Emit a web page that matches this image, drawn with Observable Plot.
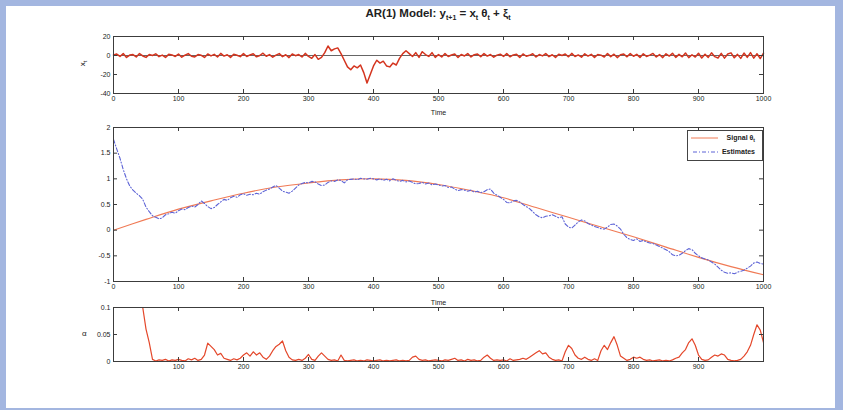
<!DOCTYPE html>
<html>
<head>
<meta charset="utf-8">
<script src="https://cdn.jsdelivr.net/npm/d3@7"></script>
<script src="https://cdn.jsdelivr.net/npm/@observablehq/plot@0.6"></script>
<style>
  body { margin: 0; background: #fff; }
  #wrap { position: relative; width: 843px; height: 410px; background: #a3b6e0; overflow: hidden;
          font-family: "Liberation Sans", Arial, sans-serif; color: #222; }
  #inner { position: absolute; left: 6px; top: 6px; width: 829px; height: 402px; background: #fff; }
  #title { position: absolute; left: 113px; width: 650px; top: 7px; text-align: center;
           font-family: "Liberation Sans Narrow", "Liberation Sans", Arial, sans-serif;
           font-size: 11.5px; font-weight: bold; color: #222; white-space: nowrap; }
  #title sub { font-size: 7px; }
  .panel { position: absolute; left: 0; }
  .ylab { position: absolute; font-size: 8px; color: #222; white-space: nowrap; }
  .ylab sub { font-size: 6px; }
  #legend { position: absolute; left: 687px; top: 130px; width: 74px; height: 29px; background: #fff;
            border: 1px solid #444; font-size: 7px; font-weight: bold; color: #222; }
  #legend .row { position: absolute; left: 0; width: 74px; height: 10px; }
  #legend svg { position: absolute; left: 3px; top: 0; }
  #legend span { position: absolute; right: 7px; top: 0; line-height: 10px; }
  #legend sub { font-size: 5px; }
</style>
</head>
<body>
<div id="wrap">
  <div id="inner"></div>
  <div id="title">AR(1) Model: y<sub>t+1</sub> = x<sub>t</sub> &theta;<sub>t</sub> + &xi;<sub>t</sub></div>
  <div id="p1" class="panel" style="top:26px"></div>
  <div id="p2" class="panel" style="top:117px"></div>
  <div id="p3" class="panel" style="top:297px"></div>
  <div class="ylab" style="left:80px; top:58px; transform: rotate(-90deg);">x<sub>t</sub></div>
  <div class="ylab" style="left:82px; top:329px;">&alpha;</div>
  <div id="legend">
    <div class="row" style="top:2px">
      <svg width="30" height="10"><line x1="0" y1="5" x2="27" y2="5" stroke="#f07a55" stroke-width="1"/></svg>
      <span>Signal &theta;<sub>t</sub></span>
    </div>
    <div class="row" style="top:16px">
      <svg width="30" height="10"><line x1="2" y1="5" x2="27" y2="5" stroke="#5d63d6" stroke-width="1" stroke-dasharray="4,2,1,2"/></svg>
      <span>Estimates</span>
    </div>
  </div>
</div>
<script>
// ---------- data ----------
const step = 5; // sampling step (time units) of the series below
// x_t regressor (panel 1), t = 0..1000 every 5
const xtValues = [
  0.5,1.5,-1,2,-2,0.5,1,-1.5,2,-0.5,
  -2,1,0,1.8,-1.2,0.4,-2,1.2,0.6,-1,
  1.5,-1.8,0.3,2,-0.8,-1.5,1,0.2,-2,1.6,
  -0.4,1.2,-1.6,2.2,-0.6,0.8,-2,1.4,0.2,-1.2,
  2,-1,0.6,1.8,-1.4,0,2.4,-0.8,1,-1.8,
  0.4,2,-1.2,0.8,-2.2,1.6,-0.2,1,-1.6,2.2,
  -1,-3,1,-4,-2,3,10,5,7,8,
  2,-5,-12,-15,-11,-13,-10,-18,-29,-20,
  -11,-5,-8,-6,-11,-12,-8,-10,-3,2,
  5,2,-1,3,-2,4,1,-1,3,-2,
  1,-1.5,2,-1,0.5,1.5,-2,1,-0.5,2,
  -1.5,0.8,1.6,-1.2,2,-0.6,1,-1.8,0.4,1.4,
  -1,2,-1.4,0.6,1.2,-2,1.6,-0.8,0.2,1.8,
  -1.6,1,-0.4,2,-1.2,0.8,-2,1.4,0,1.6,
  -1.4,2.2,-1,0.6,-1.8,1.8,-0.6,1.2,-2,1,
  0.4,-1.6,2,-1.2,1.4,-2.2,0.8,1.6,-1.4,2,
  -0.8,1.2,-2,1.8,-1,0.4,2.2,-1.6,1,-2.2,
  1.8,-0.6,2.4,-2,1.2,-1.4,2.6,-2.2,0.8,-1.6,
  2.4,-2.6,1.4,-2,2.8,-1.2,-2.6,2.2,-2.8,1.6,
  2.8,-2.4,1.2,-3,2.6,-2,3,-2.8,1.8,-3.2,
  2.4
];
// true signal theta_t (panel 2), sampled every 50
const thetaTimes = [0,50,100,150,200,250,300,350,400,450,500,550,600,650,700,750,800,850,900,950,1000];
const thetaTrue  = [0,0.21,0.41,0.57,0.72,0.84,0.92,0.98,1.0,0.97,0.89,0.77,0.63,0.44,0.25,0.06,-0.13,-0.33,-0.53,-0.71,-0.87];
// estimates (panel 2), t = 0..1000 every 5
const thetaEst = [
  1.77,1.58,1.40,1.18,1.00,0.86,0.78,0.72,0.67,0.60,0.45,0.36,0.28,0.25,0.22,0.24,0.30,0.32,0.35,0.33,
  0.38,0.41,0.40,0.44,0.47,0.45,0.50,0.57,0.52,0.46,0.42,0.44,0.50,0.55,0.60,0.58,0.63,0.66,0.64,0.69,
  0.71,0.68,0.70,0.69,0.72,0.70,0.75,0.78,0.80,0.84,0.87,0.82,0.76,0.74,0.72,0.76,0.82,0.88,0.91,0.93,
  0.92,0.95,0.94,0.90,0.87,0.88,0.93,0.96,0.95,0.98,0.97,0.92,0.98,0.99,1.00,0.98,1.01,1.00,0.99,1.01,
  1.00,0.98,1.00,0.97,0.99,0.96,1.00,0.97,0.95,0.97,0.94,0.96,0.93,0.90,0.91,0.93,0.90,0.92,0.88,0.90,
  0.88,0.86,0.87,0.83,0.84,0.80,0.77,0.79,0.78,0.76,0.78,0.74,0.76,0.73,0.75,0.79,0.80,0.72,0.68,0.64,
  0.60,0.54,0.53,0.57,0.58,0.55,0.50,0.46,0.42,0.36,0.30,0.26,0.24,0.27,0.28,0.30,0.27,0.24,0.26,0.12,
  0.06,0.04,0.10,0.16,0.20,0.18,0.13,0.10,0.07,0.05,0.03,0.02,0.06,0.11,0.12,0.08,0.02,-0.08,-0.15,-0.18,
  -0.20,-0.17,-0.22,-0.20,-0.23,-0.25,-0.26,-0.29,-0.32,-0.35,-0.38,-0.42,-0.48,-0.50,-0.49,-0.45,-0.40,-0.36,-0.38,-0.45,
  -0.50,-0.54,-0.56,-0.58,-0.62,-0.66,-0.72,-0.78,-0.82,-0.84,-0.83,-0.85,-0.82,-0.80,-0.78,-0.74,-0.70,-0.64,-0.62,-0.65,
  -0.66
];
// alpha (panel 3), t = 0..1000 every 5
const alphaValues = [
  0.9,0.85,0.8,0.7,0.6,0.5,0.4,0.3,0.2,0.1,0.06,0.035,0.004,0.001,0.003,0.002,0.004,0.001,0.003,0.002,
  0.004,0.002,0.001,0.005,0.003,0.006,0.002,0.004,0.012,0.034,0.028,0.022,0.012,0.015,0.006,0.004,0.002,0.005,0.003,0.006,
  0.012,0.016,0.010,0.018,0.012,0.016,0.008,0.004,0.010,0.020,0.028,0.032,0.038,0.020,0.008,0.003,0.002,0.004,0.002,0.006,
  0.013,0.004,0.002,0.010,0.016,0.010,0.004,0.002,0.003,0.001,0.012,0.002,0.001,0.002,0.003,0.001,0.002,0.001,0.003,0.002,
  0.001,0.002,0.003,0.001,0.002,0.001,0.002,0.003,0.001,0.002,0.001,0.002,0.008,0.010,0.004,0.002,0.003,0.001,0.002,0.003,
  0.002,0.001,0.003,0.002,0.004,0.006,0.002,0.003,0.001,0.004,0.002,0.003,0.001,0.002,0.008,0.012,0.006,0.002,0.003,0.002,
  0.003,0.001,0.005,0.002,0.003,0.004,0.006,0.004,0.008,0.012,0.016,0.020,0.014,0.016,0.008,0.004,0.002,0.003,0.001,0.018,
  0.030,0.024,0.012,0.006,0.004,0.008,0.004,0.002,0.005,0.002,0.020,0.030,0.022,0.035,0.046,0.030,0.010,0.006,0.002,0.004,
  0.008,0.006,0.008,0.004,0.002,0.003,0.001,0.002,0.003,0.001,0.002,0.001,0.003,0.006,0.008,0.016,0.022,0.035,0.042,0.030,
  0.012,0.004,0.002,0.003,0.008,0.012,0.010,0.014,0.012,0.004,0.002,0.001,0.002,0.004,0.010,0.018,0.030,0.050,0.068,0.058,
  0.035
];
// ticks
const xTicks = [0,100,200,300,400,500,600,700,800,900,1000];
const xTicksAlpha = [100,200,300,400,500,600,700,800,900];
const yTicks1 = [20,0,-20,-40];
const yTicks2 = [2,1.5,1,0.5,0,-0.5,-1];
const yTicks3 = [0.1,0.05,0];

// ---------- build ----------
const xtData = xtValues.map((v, i) => ({t: i * step, v}));
const trueData = thetaTimes.map((t, i) => ({t, v: thetaTrue[i]}));
const estData = thetaEst.map((v, i) => ({t: i * step, v}));
const alphaData = alphaValues.map((v, i) => ({t: i * step, v}));

const W = 843, ML = 113, MR = 80;
const FRAME = "#3c3c3c";

function panel({height, mt, mb, ydom, yt, xt, xl, label, labelOffset, marks}) {
  const ih = height - mt - mb, iw = W - ML - MR, tk = 4;
  return Plot.plot({
    width: W, height, marginTop: mt, marginBottom: mb, marginLeft: ML, marginRight: MR,
    x: {domain: [0, 1000]},
    y: {domain: ydom},
    style: {background: "transparent", fontSize: "7px", fontFamily: "Liberation Sans, Arial, sans-serif", color: "#222", overflow: "visible"},
    marks: [
      ...marks,
      Plot.frame({stroke: FRAME, strokeWidth: 1}),
      Plot.tickX(xt, {x: d => d, insetTop: ih - tk, stroke: FRAME}),
      Plot.tickX(xt, {x: d => d, insetBottom: ih - tk, stroke: FRAME}),
      Plot.tickY(yt, {y: d => d, insetRight: iw - tk, stroke: FRAME}),
      Plot.tickY(yt, {y: d => d, insetLeft: iw - tk, stroke: FRAME}),
      Plot.axisX({ticks: xl, tickSize: 0, tickPadding: 3, tickFormat: d => String(d),
                  label: label, labelAnchor: "center", labelOffset: labelOffset, labelArrow: "none"}),
      Plot.axisY({ticks: yt, tickSize: 0, tickPadding: 3, tickFormat: d => String(d), label: null})
    ]
  });
}

document.getElementById("p1").append(panel({
  height: 97, mt: 10, mb: 30, ydom: [-40, 20], yt: yTicks1, xt: xTicks, xl: xTicks,
  label: "Time", labelOffset: 21,
  marks: [
    Plot.ruleY([0], {stroke: "#666", strokeWidth: 1}),
    Plot.lineY(xtData, {x: "t", y: "v", stroke: "#d4341e", strokeWidth: 1.5})
  ]
}));

document.getElementById("p2").append(panel({
  height: 194, mt: 10, mb: 30, ydom: [-1, 2], yt: yTicks2, xt: xTicks, xl: xTicks,
  label: "Time", labelOffset: 23,
  marks: [
    Plot.lineY(trueData, {x: "t", y: "v", stroke: "#f07a55", strokeWidth: 1.1, curve: "catmull-rom"}),
    Plot.lineY(estData, {x: "t", y: "v", stroke: "#5d63d6", strokeWidth: 1.1, strokeDasharray: "4,2,1,2"})
  ]
}));

document.getElementById("p3").append(panel({
  height: 84, mt: 10, mb: 20, ydom: [0, 0.1], yt: yTicks3, xt: xTicksAlpha, xl: xTicksAlpha,
  label: null, labelOffset: 0,
  marks: [
    Plot.lineY(alphaData, {x: "t", y: "v", stroke: "#e4472a", strokeWidth: 1.2, clip: true})
  ]
}));
</script>
</body>
</html>
